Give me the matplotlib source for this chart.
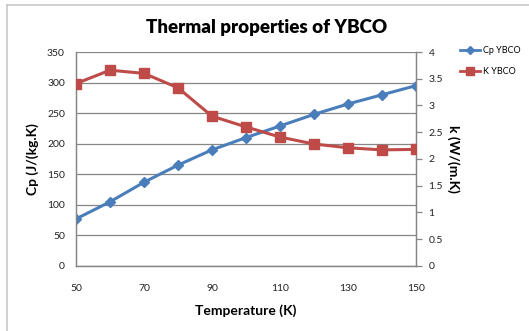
import matplotlib
matplotlib.use('Agg')
import matplotlib.pyplot as plt
from matplotlib.lines import Line2D

# temperature points and measured properties
temperature = [50, 60, 70, 80, 90, 100, 110, 120, 130, 140, 150]
cp_ybco = [77, 105, 137, 165, 190, 210, 229, 248, 265, 280, 295]
k_ybco = [3.41, 3.66, 3.60, 3.33, 2.80, 2.60, 2.41, 2.28, 2.21, 2.17, 2.18]

plt.rcParams['font.family'] = ['Lato', 'DejaVu Sans']

blue = '#4a7ebb'
red = '#be4b48'
grey = '#868686'

fig = plt.figure(figsize=(5.29, 3.31), dpi=100)
ax = fig.add_axes([0.1437, 0.1964, 0.6427, 0.6465])
ax2 = ax.twinx()

ax.plot(temperature, cp_ybco, color=blue, lw=2.2, marker='D', ms=5,
        label='Cp YBCO', zorder=3)
ax2.plot(temperature, k_ybco, color=red, lw=2.2, marker='s', ms=7,
         label='K YBCO', zorder=3)

ax.set_xlim(50, 150)
ax.set_ylim(0, 350)
ax2.set_ylim(0, 4)
ax.set_xticks(range(50, 151, 20))
ax.set_yticks(range(0, 351, 50))
ax2.set_yticks([i * 0.5 for i in range(9)])
ax2.set_yticklabels(['0', '0.5', '1', '1.5', '2', '2.5', '3', '3.5', '4'])

ax.yaxis.grid(True, color=grey, lw=0.9)
ax.set_axisbelow(True)

for a in (ax, ax2):
    a.spines['top'].set_visible(False)
    for s in ('left', 'right', 'bottom'):
        a.spines[s].set_color(grey)
        a.spines[s].set_linewidth(0.9)

ax.tick_params(axis='y', length=0, pad=8, labelsize=7.5, labelcolor='#222222')
ax.tick_params(axis='x', length=0, pad=13, labelsize=7.5, labelcolor='#222222')
ax2.tick_params(axis='y', length=4, width=0.9, color=grey, pad=5,
                labelsize=7.5, labelcolor='#222222')

fig.text(0.503, 0.918, 'Thermal properties of YBCO', fontsize=13.5,
         fontweight='heavy', ha='center', va='center')
ax.set_xlabel('Temperature (K)', fontsize=10, fontweight='bold', labelpad=8)
ax.set_ylabel('Cp (J/(kg.K)', fontsize=10, fontweight='bold', labelpad=6)
ax2.set_ylabel('k (W/(m.K)', fontsize=10, fontweight='bold', rotation=-90,
               labelpad=12)

handles = [
    Line2D([], [], color=blue, lw=2, marker='D', ms=4),
    Line2D([], [], color=red, lw=2, marker='s', ms=6),
]
fig.legend(handles, ['Cp YBCO', 'K YBCO'], loc='upper left',
           bbox_to_anchor=(0.855, 0.885), frameon=False, fontsize=6.5,
           handlelength=2.2, handletextpad=0.3, labelspacing=1.3)

# chart area border on the left and top edges
fig.add_artist(Line2D([0.014, 0.014], [0, 0.985], color='#c8c8c8', lw=1.2,
                      transform=fig.transFigure))
fig.add_artist(Line2D([0.014, 1], [0.985, 0.985], color='#c8c8c8', lw=1.2,
                      transform=fig.transFigure))

fig.savefig('out.png', dpi=100)
